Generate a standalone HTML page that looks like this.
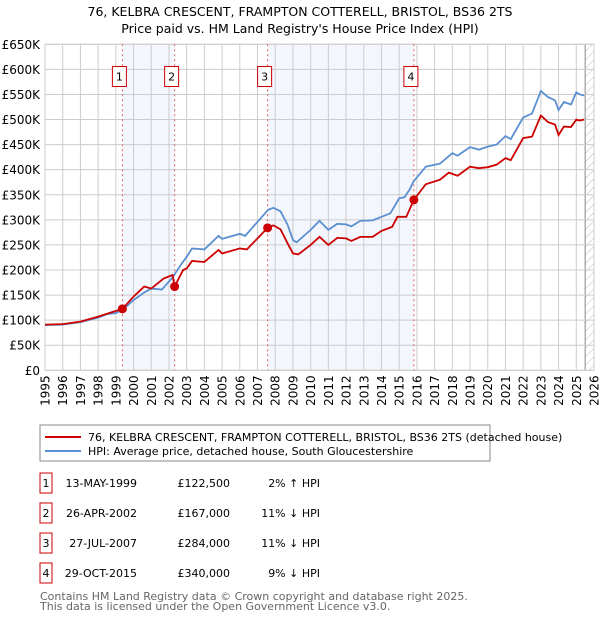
<!DOCTYPE html>
<html><head><meta charset="utf-8"><style>
body{margin:0;background:#fff;font-family:"Liberation Sans","DejaVu Sans",sans-serif;}
svg text{font-family:"DejaVu Sans","Liberation Sans",sans-serif;}
</style></head><body>
<svg id="c" width="600" height="620" viewBox="0 0 600 620">
<defs><pattern id="hatch" width="6" height="6" patternUnits="userSpaceOnUse" patternTransform="rotate(45)"><line x1="0" y1="0" x2="0" y2="6" stroke="#bbb" stroke-width="1"/></pattern></defs>
<text x="300" y="16" text-anchor="middle" font-size="12.5">76, KELBRA CRESCENT, FRAMPTON COTTERELL, BRISTOL, BS36 2TS</text>
<text x="300" y="33" text-anchor="middle" font-size="12.5">Price paid vs. HM Land Registry's House Price Index (HPI)</text>
<g id="plot"></g>
<rect x="40" y="425" width="450" height="36" fill="#fff" stroke="#888"/>
<line x1="45" y1="437" x2="81" y2="437" stroke="#cc0000" stroke-width="2"/>
<text x="88" y="441" font-size="11">76, KELBRA CRESCENT, FRAMPTON COTTERELL, BRISTOL, BS36 2TS (detached house)</text>
<line x1="45" y1="451" x2="81" y2="451" stroke="#5b8fd1" stroke-width="2"/>
<text x="88" y="455" font-size="11">HPI: Average price, detached house, South Gloucestershire</text>
<g id="table" font-size="11"></g>
<text x="40" y="600" font-size="11" fill="#666">Contains HM Land Registry data © Crown copyright and database right 2025.</text>
<text x="40" y="610" font-size="11" fill="#666">This data is licensed under the Open Government Licence v3.0.</text>
</svg>
<script>
const hpiT=[1995,1996,1997,1998,1998.5,1999,1999.4,2000,2000.6,2001,2001.6,2002.2,2002.7,2003,2003.3,2004,2004.8,2005,2006,2006.3,2007,2007.6,2007.9,2008.3,2008.7,2009,2009.2,2010,2010.5,2011,2011.5,2012,2012.3,2012.8,2013.5,2014,2014.5,2015,2015.3,2015.6,2015.8,2016.5,2017.3,2018,2018.3,2019,2019.5,2020,2020.5,2021,2021.3,2022,2022.5,2023.0,2023.4,2023.8,2024.0,2024.3,2024.7,2025.0,2025.2,2025.45];
const hpiV=[90,91,96,105,112,114,121,140,155,163,161,185,212,226,243,241,268,262,272,268,296,320,324,317,290,260,255,280,298,280,292,291,287,298,299,306,313,343,345,361,376,406,412,433,428,445,440,446,450,467,461,504,512,557,545,538,519,535,530,554,550,548];
const ppT=[1995,1996,1997,1998,1998.7,1999.37,2000,2000.6,2001,2001.7,2002.2,2002.32,2002.8,2003,2003.3,2004,2004.8,2005,2006,2006.4,2007,2007.57,2007.9,2008.3,2008.7,2009,2009.3,2010,2010.5,2011,2011.5,2012,2012.3,2012.8,2013.5,2014,2014.6,2014.9,2015.4,2015.83,2016.5,2017.3,2017.8,2018.3,2019,2019.5,2020,2020.5,2021,2021.3,2022,2022.5,2023.0,2023.4,2023.8,2024.0,2024.3,2024.7,2025.0,2025.2,2025.45];
const ppV=[91,92,97,107,115,122.5,147,167,163,183,190,167,200,203,218,216,240,233,243,241,263,284,289,281,253,233,231,250,266,250,264,263,258,266,266,278,286,306,306,340,371,380,394,388,406,403,405,410,423,419,463,466,508,495,490,469,486,485,500,498,500];
const saleT=[1999.37,2002.32,2007.57,2015.83];
const saleV=[122.5,167,284,340];
const saleLabels=["1","2","3","4"];
const saleDates=["13-MAY-1999","26-APR-2002","27-JUL-2007","29-OCT-2015"];
const salePrices=["£122,500","£167,000","£284,000","£340,000"];
const saleHpi=["2% ↑ HPI","11% ↓ HPI","11% ↓ HPI","9% ↓ HPI"];
const yTicks=[0,50,100,150,200,250,300,350,400,450,500,550,600,650];
const xTicks=[1995,1996,1997,1998,1999,2000,2001,2002,2003,2004,2005,2006,2007,2008,2009,2010,2011,2012,2013,2014,2015,2016,2017,2018,2019,2020,2021,2022,2023,2024,2025,2026];
const X0=45,X1=594,Y0=370.3,YT=44.3;
const x=t=>X0+(t-1995)*(X1-X0)/31;
const y=v=>Y0-v*(Y0-YT)/650;
const NS="http://www.w3.org/2000/svg";
const plot=document.getElementById('plot');
function mk(tag,attrs,parent){const e=document.createElementNS(NS,tag);for(const k in attrs)e.setAttribute(k,attrs[k]);(parent||plot).appendChild(e);return e;}
for(let i=0;i<saleT.length;i+=2){
 const r=mk('rect',{x:x(saleT[i]),y:YT,width:x(saleT[i+1])-x(saleT[i]),height:Y0-YT,fill:'#f3f6fd'});
 
 
}
const h=mk('rect',{x:x(2025.5),y:YT,width:X1-x(2025.5),height:Y0-YT,fill:'url(#hatch)'});


mk('line',{x1:x(2025.5),y1:YT,x2:x(2025.5),y2:Y0,stroke:'#888'});
yTicks.forEach(v=>{
 const l=mk('line',{x1:X0,y1:y(v),x2:X1,y2:y(v),stroke:'#cccccc'});
 
 
 const t=mk('text',{x:40,y:y(v)+4.5,'text-anchor':'end','font-size':'12'});
 t.textContent='£'+(v===0?'0':v+'K');
 
 
});
xTicks.forEach(v=>{
 const l=mk('line',{x1:x(v),y1:YT,x2:x(v),y2:Y0,stroke:'#cccccc'});
 
 
 const t=mk('text',{x:0,y:0,'text-anchor':'end','font-size':'12',transform:`translate(${x(v)+4.5},${Y0+5}) rotate(-90)`});
 t.textContent=v;
 
 
});
mk('rect',{x:X0,y:YT,width:X1-X0,height:Y0-YT,fill:'none',stroke:'#cccccc'});
saleT.forEach((t,i)=>{
 const l=mk('line',{x1:x(t),y1:YT,x2:x(t),y2:Y0,stroke:'#e06060','stroke-dasharray':'2,3'});
 
 
 const b=mk('rect',{x:x(t)-10,y:66.5,width:14,height:20,fill:'#fff',stroke:'#cc0000'});
 
 
 const tx=mk('text',{x:x(t)-3,y:80.5,'text-anchor':'middle','font-size':'11'});
 tx.textContent=saleLabels[i];
 
 
});
const hp=mk('polyline',{points:hpiT.map((t,i)=>x(t)+','+y(hpiV[i])).join(' '),fill:'none',stroke:'#5b8fd1','stroke-width':1.8});


const pp=mk('polyline',{points:ppT.map((t,i)=>x(t)+','+y(ppV[i])).join(' '),fill:'none',stroke:'#cc0000','stroke-width':1.8});


saleT.forEach((t,i)=>{
 const c=mk('circle',{cx:x(t),cy:y(saleV[i]),r:4.5,fill:'#cc0000'});
 
 
});
const tb=document.getElementById('table');
saleT.forEach((t,i)=>{
 const cy=483+i*30;
 const b=mk('rect',{x:40,y:cy-10,width:12,height:20,fill:'#fff',stroke:'#cc0000'},tb);
 
 
 const cells=[[46,'middle',saleLabels[i],'table-marker-label'],[137,'end',saleDates[i],'table-date'],[230,'end',salePrices[i],'table-price'],[320,'end',saleHpi[i],'table-hpi-diff']];
 cells.forEach(c=>{
  const e=mk('text',{x:c[0],y:cy+4,'text-anchor':c[1]},tb);
  e.textContent=c[2];
  
  
 });
});
</script>
</body></html>
